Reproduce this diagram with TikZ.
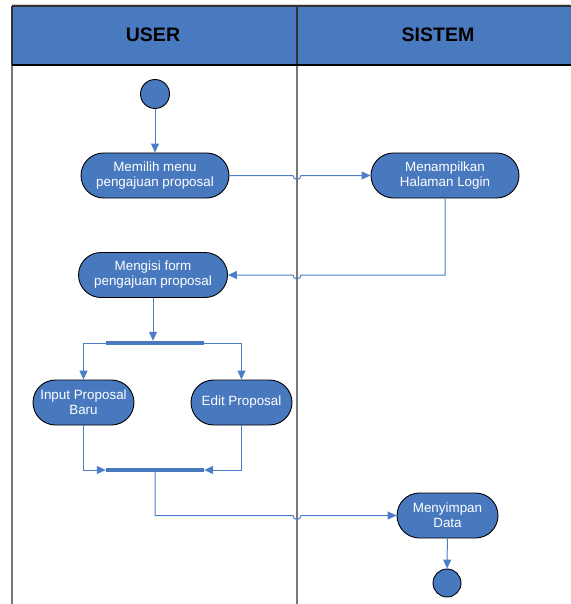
\documentclass[tikz,border=0pt]{standalone}
\usepackage{fontspec}
\setmainfont{Liberation Sans}
\usetikzlibrary{arrows.meta}
\definecolor{lanefill}{RGB}{73,122,192}
\definecolor{actfill}{RGB}{72,120,190}
\definecolor{flow}{RGB}{76,126,200}
\definecolor{lanegray}{RGB}{120,120,120}
\begin{document}
\begin{tikzpicture}[x=1pt,y=-1pt,
  activity/.style={draw=black, line width=0.9pt, fill=actfill, text=white,
    rounded corners=22.5pt, minimum height=45pt, inner sep=0pt, align=center,
    font=\fontsize{13.4}{15}\selectfont},
  terminal/.style={circle, draw=black, line width=0.9pt, fill=actfill,
    minimum size=29pt, inner sep=0pt},
  syncbar/.style={fill=actfill, minimum width=98pt, minimum height=4pt, inner sep=0pt},
  flowline/.style={draw=flow, line width=1pt},
  flowarrow/.style={flowline, -{Triangle[length=9pt,width=8pt]}},
  lanetitle/.style={font=\fontsize{19.5}{22}\selectfont\bfseries, text=black}]
\useasboundingbox (0,0) rectangle (570,604);

% swimlane frame
\draw[gray!35, line width=1pt] (12,4.5) -- (570,4.5);
\fill[lanefill] (12,6) rectangle (575,65);
\draw[lanegray, line width=2pt] (12,65) -- (12,604);
\draw[lanegray, line width=1.6pt] (297,65) -- (297,604);
\draw[black!80, line width=1.2pt] (12,6) -- (575,6);
\draw[black!80, line width=1.2pt] (12,6) -- (12,65);
\draw[black!80, line width=1.2pt] (297,6) -- (297,65);
\draw[black, line width=1.2pt] (12,65) -- (575,65);
\node[lanetitle] (laneuser) at (153,35) {USER};
\node[lanetitle] (lanesistem) at (438,35) {SISTEM};

% activities
\node[terminal] (start) at (155,94) {};
\node[activity, minimum width=148pt] (pilih) at (155,175.5) {Memilih menu\\pengajuan proposal};
\node[activity, minimum width=148pt] (login) at (445,175.5) {Menampilkan\\Halaman Login};
\node[activity, minimum width=149pt] (isi) at (153,275) {Mengisi form\\pengajuan proposal};
\node[syncbar] (fork) at (155,343) {};
\node[activity, minimum width=101pt] (input) at (83.5,402.5) {Input Proposal\\Baru};
\node[activity, minimum width=101pt] (edit) at (241.5,402.5) {Edit Proposal};
\node[syncbar] (join) at (155,470) {};
\node[activity, minimum width=101pt] (simpan) at (447.5,515.5) {Menyimpan\\Data};
\node[terminal, minimum size=28pt] (finish) at (447,583) {};

% control flow
\draw[flowarrow] (start) -- (pilih);
\draw[flowarrow] (pilih.east) -- (293,175.5) arc[start angle=180, end angle=0, radius=4] -- (login.west);
\draw[flowarrow] (login.south) |- (301,275) arc[start angle=0, end angle=180, radius=4] -- (isi.east);
\draw[flowarrow] (isi.south) -- (isi.south |- fork.north);
\draw[flowarrow] (fork.west) -| (input.north);
\draw[flowarrow] (fork.east) -| (edit.north);
\draw[flowarrow] (input.south) |- (join.west);
\draw[flowarrow] (edit.south) |- (join.east);
\draw[flowarrow] (join.south) |- (293,515.5) arc[start angle=180, end angle=0, radius=4] -- (simpan.west);
\draw[flowarrow] (simpan) -- (finish);
\end{tikzpicture}
\end{document}
